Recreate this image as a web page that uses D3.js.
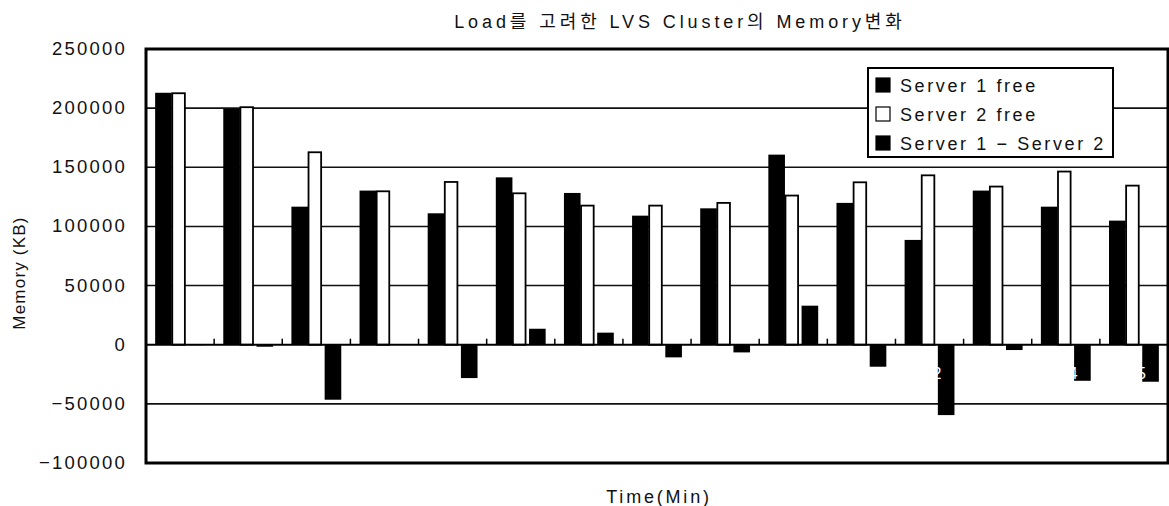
<!DOCTYPE html>
<html>
<head>
<meta charset="utf-8">
<script src="https://cdn.jsdelivr.net/npm/d3@7/dist/d3.min.js"></script>
<style>
    body { margin: 0; background: #fff; }
    svg { display: block; font-family: "Liberation Sans", Arial, "Noto Sans CJK KR", sans-serif; }
</style>
</head>
<body>
<script>
// chart data
var categories = ['1', '2', '3', '4', '5', '6', '7', '8', '9', '10', '11', '12', '13', '14', '15'];
var server1Free = [213000, 199500, 116700, 130300, 111100, 141500, 128300, 109100, 115300, 160700, 119900, 88600, 130300, 116700, 104900];
var server2Free = [212600, 200800, 162700, 129700, 137600, 128000, 117600, 117600, 119900, 126100, 137300, 143200, 133700, 146400, 134500];
var serverDiff = [400, -1700, -46500, 600, -28200, 13500, 10200, -10700, -6500, 33000, -18600, -59500, -4500, -30500, -31300];
var yTicks = [-100000, -50000, 0, 50000, 100000, 150000, 200000, 250000];
var seriesNames = ['Server 1 free', 'Server 2 free', 'Server 1 \u2212 Server 2'];

window.MemChart = {
    init: function () {
        var self = this;

        // PROPERTIES
        self.width = 1169;
        self.height = 506;
        self.plot = {left: 146, right: 1168, top: 49, bottom: 463};

        self.svg = d3.select('body').append('svg')
            .attr('width', self.width)
            .attr('height', self.height);

        self.x = d3.scaleBand()
            .domain(categories)
            .range([self.plot.left, self.plot.right]);

        self.xSub = d3.scaleBand()
            .domain([0, 1, 2])
            .range([0, self.x.bandwidth()])
            .paddingOuter(0.55);

        self.y = d3.scaleLinear()
            .domain([-100000, 250000])
            .range([self.plot.bottom, self.plot.top]);

        self.drawGrid();
        self.drawBars();
        self.drawFrame();
        self.drawLegend();
        self.drawText();
    },
    drawGrid: function () {
        var self = this;

        self.svg.append('g')
            .selectAll('line')
            .data(yTicks.filter(function (d) { return d !== 0; }))
            .enter().append('line')
            .attr('x1', self.plot.left)
            .attr('x2', self.plot.right)
            .attr('y1', function (d) { return self.y(d); })
            .attr('y2', function (d) { return self.y(d); })
            .attr('stroke', '#111')
            .attr('stroke-width', 1.6);
    },
    drawBars: function () {
        var self = this,
            rows = categories.map(function (c, i) {
                return {cat: c, vals: [server1Free[i], server2Free[i], serverDiff[i]]};
            }),
            groups, bw = self.xSub.bandwidth();

        groups = self.svg.append('g').selectAll('g')
            .data(rows).enter().append('g')
            .attr('transform', function (d) { return 'translate(' + self.x(d.cat) + ',0)'; });

        groups.selectAll('rect')
            .data(function (d) { return d.vals; })
            .enter().append('rect')
            .attr('x', function (d, i) { return self.xSub(i) + (i === 1 ? 0.5 : 0); })
            .attr('width', function (d, i) { return i === 1 ? bw - 4 : bw; })
            .attr('y', function (d) { return Math.min(self.y(d), self.y(0)); })
            .attr('height', function (d) { return Math.max(1, Math.abs(self.y(d) - self.y(0))); })
            .attr('fill', function (d, i) { return i === 1 ? '#fff' : '#000'; })
            .attr('stroke', '#000')
            .attr('stroke-width', function (d, i) { return i === 1 ? 1.8 : 0; });

        // category labels are white in the scan, only showing through dark bars
        self.svg.append('g').selectAll('text')
            .data(categories).enter().append('text')
            .attr('x', function (d) { return self.x(d) + self.x.bandwidth() / 2 + 3; })
            .attr('y', self.y(0) + 34)
            .attr('text-anchor', 'middle')
            .attr('font-size', 16)
            .attr('fill', '#fff')
            .text(function (d) { return d; });
    },
    drawFrame: function () {
        var self = this,
            p = self.plot,
            ticks = categories.slice(1).map(function (c) { return self.x(c); });

        // zero line and little category ticks
        self.svg.append('line')
            .attr('x1', p.left).attr('x2', p.right)
            .attr('y1', self.y(0)).attr('y2', self.y(0))
            .attr('stroke', '#000').attr('stroke-width', 2);

        self.svg.append('g').selectAll('line')
            .data(ticks).enter().append('line')
            .attr('x1', function (d) { return d; })
            .attr('x2', function (d) { return d; })
            .attr('y1', self.y(0))
            .attr('y2', self.y(0) - 6)
            .attr('stroke', '#000')
            .attr('stroke-width', 1.5);

        self.svg.append('rect')
            .attr('x', p.left).attr('y', p.top)
            .attr('width', p.right - p.left)
            .attr('height', p.bottom - p.top)
            .attr('fill', 'none')
            .attr('stroke', '#000')
            .attr('stroke-width', 3);

        self.svg.append('g').selectAll('text')
            .data(yTicks).enter().append('text')
            .attr('x', 127)
            .attr('y', function (d) { return self.y(d) + 6; })
            .attr('text-anchor', 'end')
            .attr('font-size', 18.5)
            .attr('letter-spacing', 2.2)
            .attr('fill', '#111')
            .text(function (d) { return d < 0 ? '\u2212' + Math.abs(d) : d; });
    },
    drawLegend: function () {
        var self = this,
            lg = self.svg.append('g').attr('transform', 'translate(868,68)'),
            items;

        lg.append('rect')
            .attr('width', 245).attr('height', 89)
            .attr('fill', '#fff')
            .attr('stroke', '#000')
            .attr('stroke-width', 2);

        items = lg.selectAll('g.item')
            .data(seriesNames).enter().append('g')
            .attr('class', 'item')
            .attr('transform', function (d, i) { return 'translate(8,' + (17 + i * 29) + ')'; });

        items.append('rect')
            .attr('x', 0).attr('y', -7)
            .attr('width', 14).attr('height', 14)
            .attr('fill', function (d, i) { return i === 1 ? '#fff' : '#000'; })
            .attr('stroke', '#000')
            .attr('stroke-width', 1.2);

        items.append('text')
            .attr('x', 24)
            .attr('y', 7)
            .attr('font-size', 18)
            .attr('letter-spacing', 2.6)
            .attr('fill', '#111')
            .text(function (d) { return d; });
    },
    drawText: function () {
        var self = this,
            cx = (self.plot.left + self.plot.right) / 2;

        self.svg.append('text')
            .attr('x', cx + 23)
            .attr('y', 28)
            .attr('text-anchor', 'middle')
            .attr('font-size', 18)
            .attr('letter-spacing', 3.9)
            .attr('fill', '#111')
            .text('Load를 고려한 LVS Cluster의 Memory변화');

        self.svg.append('text')
            .attr('x', cx + 2)
            .attr('y', 503)
            .attr('text-anchor', 'middle')
            .attr('font-size', 18)
            .attr('letter-spacing', 2.8)
            .attr('fill', '#111')
            .text('Time(Min)');

        self.svg.append('text')
            .attr('transform', 'translate(25,273) rotate(-90)')
            .attr('text-anchor', 'middle')
            .attr('font-size', 17)
            .attr('letter-spacing', 1.2)
            .attr('fill', '#111')
            .text('Memory (KB)');
    }
};

MemChart.init();
</script>
</body>
</html>
